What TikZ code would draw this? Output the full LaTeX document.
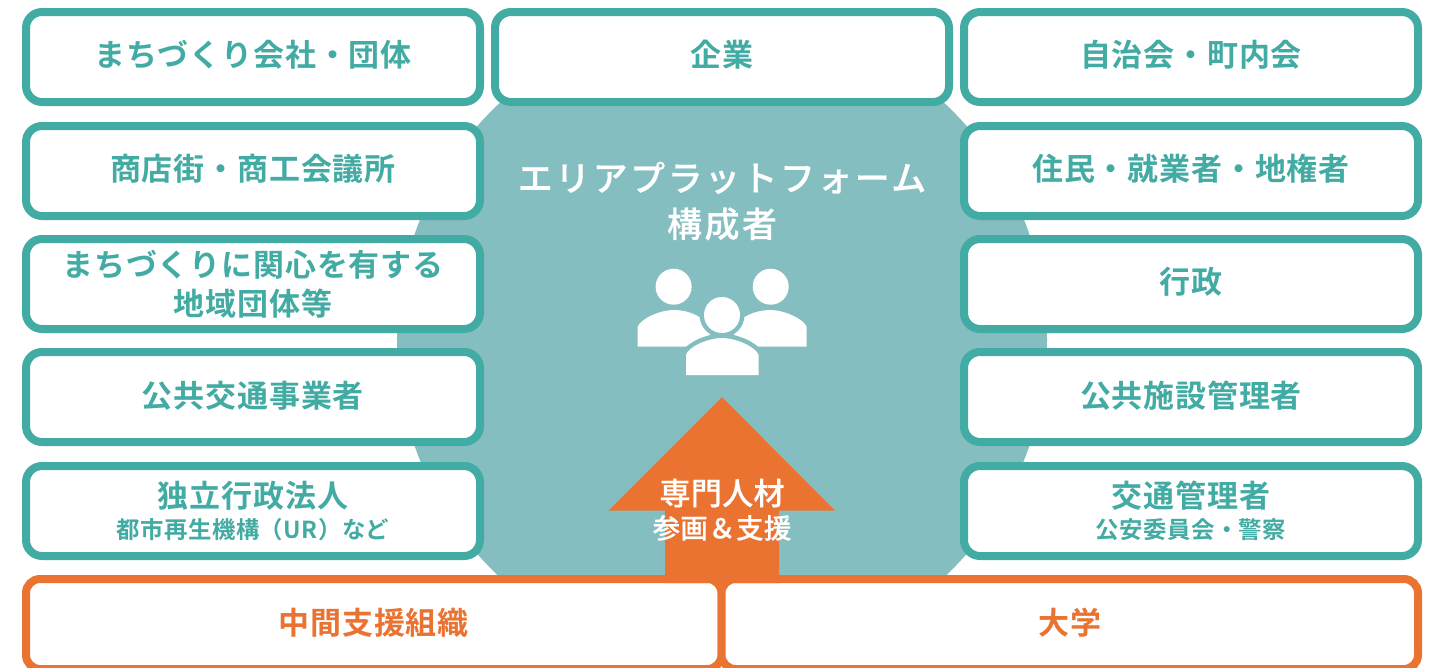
\documentclass[tikz,border=0pt]{standalone}
\usepackage{fontspec}
\setmainfont{Noto Sans CJK JP}[BoldFont={Noto Sans CJK JP Bold}]
\newfontfamily\midfont{Noto Sans CJK JP Medium}[FakeBold=0.5]
\definecolor{teal1}{HTML}{42ABA3}
\definecolor{disc}{HTML}{85BEC0}
\definecolor{org}{HTML}{EA7332}
\newcommand{\fs}[3]{\fontsize{#1}{#2}\selectfont\addfontfeatures{LetterSpace=#3}}
\newcommand{\subline}[1]{{\bfseries\fs{23.4}{30}{2}#1}}
\tikzset{
  tbox/.style={draw=teal1,line width=8pt,fill=white,rounded corners=16pt,minimum width=454pt,minimum height=90pt,
    inner sep=0pt,outer sep=0pt},
  obox/.style={draw=org,line width=8pt,fill=white,rounded corners=14pt,minimum height=90pt,
    inner sep=0pt,outer sep=0pt},
  ttext/.style={inner sep=0pt,align=center,text=teal1,font=\bfseries\fs{31}{39}{2.7}},
  otext/.style={inner sep=0pt,align=center,text=org,font=\bfseries\fs{31}{39}{2.7}},
  wtext/.style={text=white,inner sep=0pt,align=center},
  person/.style={fill=white,draw=none},
  personring/.style={fill=disc,draw=disc,line width=9pt}
}
\newcommand{\tb}[5]{\node[tbox] (#1) at (#2,#3) {};
  \node[ttext] (#1t) at ([yshift=#4pt]#1.center) {#5};}
\begin{document}
\begin{tikzpicture}[x=1pt,y=-1pt]
\useasboundingbox (0,0) rectangle (1443,667);
\clip (0,0) rectangle (1443,667);
\fill[white] (0,0) rectangle (1443,667);
\fill[disc] (722,340) circle (325);
% column 1
\tb{a1}{253}{57}{2}{まちづくり会社・団体}
\tb{a2}{253}{171}{2}{商店街・商工会議所}
\tb{a3}{253}{284}{0}{まちづくりに関心を有する\\地域団体等}
\tb{a4}{253}{397}{1}{公共交通事業者}
\tb{a5}{253}{511}{0}{独立行政法人\\[-8pt]\subline{都市再生機構（UR）など}}
% column 2
\tb{b1}{722}{57}{2}{企業}
% column 3
\tb{c1}{1191}{57}{2}{自治会・町内会}
\tb{c2}{1191}{171}{2}{住民・就業者・地権者}
\tb{c3}{1191}{284}{2}{行政}
\tb{c4}{1191}{397}{1}{公共施設管理者}
\tb{c5}{1191}{511}{0}{交通管理者\\[-8pt]\subline{公安委員会・警察}}
% title
\node[wtext,font=\midfont\fontsize{35}{46}\selectfont\addfontfeatures{LetterSpace=7}] (title) at (722,201) {エリアプラットフォーム\\構成者};
% people icon
\fill[person] (673.6,286.7) circle (18);
\fill[person] (770.7,286.7) circle (18);
\fill[person] (637.6,346.7) -- (637.6,327) .. controls (640,319) and (660,310) .. (673.6,310)
  .. controls (690,310) and (705,318) .. (710,327) -- (710,346.7) -- cycle;
\fill[person] (806.7,346.7) -- (806.7,327) .. controls (804,319) and (784,310) .. (770.7,310)
  .. controls (754,310) and (739,318) .. (734,327) -- (734,346.7) -- cycle;
\draw[personring] (722,315) circle (18);
\draw[personring] (686,375) -- (686,355) .. controls (688,347) and (708,338) .. (722,338)
  .. controls (736,338) and (756,347) .. (758.5,355) -- (758.5,375) -- cycle;
\fill[person] (722,315) circle (18);
\fill[person] (686,375) -- (686,355) .. controls (688,347) and (708,338) .. (722,338)
  .. controls (736,338) and (756,347) .. (758.5,355) -- (758.5,375) -- cycle;
% bottom boxes
\node[obox,minimum width=695.5pt] (d1) at (373.75,624) {};
\node[otext] (d1t) at ([yshift=1pt]d1.center) {中間支援組織};
\node[obox,minimum width=696.5pt] (d2) at (1069.75,624) {};
\node[otext] (d2t) at ([yshift=1pt]d2.center) {大学};
% arrow
\fill[org] (722,397) -- (835,510.7) -- (779,510.7) -- (779,583) -- (665,583) -- (665,510.7) -- (608.5,510.7) -- cycle;
\node[wtext,font=\midfont\fs{31}{36}{1}] (arrowtop) at (722,493) {専門人材};
\node[wtext,font=\midfont\fs{27.4}{32}{1.5}] (arrowsub) at (722,528) {参画＆支援};
\end{tikzpicture}
\end{document}
